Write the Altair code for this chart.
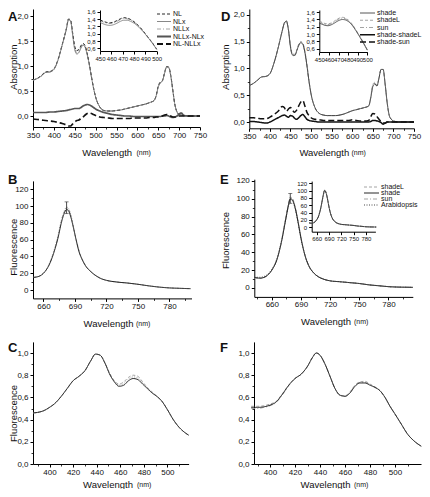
import altair as alt
import pandas as pd

FONT = "Liberation Sans"
W, H = 414, 481

# ---------------- Panel A / D : absorption spectra ----------------
ABS_WL = [350, 360, 370, 380, 390, 400, 410, 420, 430,
          435, 440, 445, 450, 455, 460, 465, 470, 475, 480, 485, 490, 495, 500,
          510, 520, 530, 540, 550, 560, 570, 580, 590, 600, 610, 620, 630, 640,
          645, 650, 655, 660, 665, 670, 675, 680, 685, 690, 695, 700, 705, 710,
          720, 730, 740, 750]

A_NL = [0.72, 0.75, 0.81, 0.88, 0.89, 0.94, 1.13, 1.43, 1.75,
        1.94, 1.92, 1.66, 1.39, 1.31, 1.33, 1.41, 1.45, 1.40, 1.24, 1.03, 0.79, 0.56, 0.38,
        0.18, 0.11, 0.10, 0.10, 0.11, 0.12, 0.14, 0.16, 0.18, 0.20, 0.22, 0.24, 0.27, 0.31,
        0.41, 0.60, 0.68, 0.71, 0.86, 0.99, 0.98, 0.81, 0.51, 0.22, 0.08, 0.03, 0.02, 0.01,
        0.0, 0.0, 0.0, 0.0]
A_NLX = [0.72, 0.75, 0.80, 0.87, 0.88, 0.93, 1.12, 1.42, 1.74,
         1.92, 1.90, 1.62, 1.33, 1.24, 1.27, 1.36, 1.42, 1.37, 1.22, 1.02, 0.78, 0.56, 0.38,
         0.18, 0.11, 0.10, 0.10, 0.11, 0.12, 0.14, 0.16, 0.18, 0.20, 0.22, 0.24, 0.27, 0.31,
         0.40, 0.58, 0.66, 0.70, 0.85, 0.98, 0.97, 0.80, 0.50, 0.22, 0.08, 0.03, 0.02, 0.01,
         0.0, 0.0, 0.0, 0.0]
A_NLLX = [0.71, 0.75, 0.80, 0.87, 0.88, 0.93, 1.12, 1.42, 1.74,
          1.93, 1.91, 1.63, 1.35, 1.27, 1.30, 1.38, 1.44, 1.39, 1.23, 1.02, 0.78, 0.56, 0.38,
          0.18, 0.11, 0.10, 0.10, 0.11, 0.12, 0.14, 0.16, 0.18, 0.20, 0.22, 0.24, 0.27, 0.31,
          0.40, 0.58, 0.67, 0.70, 0.85, 0.98, 0.97, 0.80, 0.50, 0.22, 0.08, 0.03, 0.02, 0.01,
          0.0, 0.0, 0.0, 0.0]
A_NLLX_NLX = [0.07, 0.07, 0.07, 0.07, 0.08, 0.08, 0.09, 0.10, 0.11,
              0.12, 0.13, 0.14, 0.15, 0.15, 0.15, 0.17, 0.20, 0.22, 0.23, 0.22, 0.20, 0.17, 0.14,
              0.10, 0.07, 0.05, 0.03, 0.02, 0.01, 0.00, 0.00, -0.01, -0.01, -0.01, -0.01, -0.01, -0.01,
              -0.01, -0.01, -0.01, 0.00, 0.00, 0.01, 0.00, -0.02, -0.03, -0.02, 0.00, 0.04, 0.06, 0.02,
              0.0, 0.0, 0.0, 0.0]
A_NL_NLLX = [-0.06, -0.07, -0.08, -0.09, -0.10, -0.11, -0.13, -0.15, -0.18,
             -0.20, -0.20, -0.16, -0.12, -0.09, -0.08, -0.05, -0.02, 0.02, 0.05, 0.06, 0.05, 0.03, 0.01,
             -0.02, -0.03, -0.04, -0.05, -0.05, -0.05, -0.05, -0.05, -0.04, -0.04, -0.04, -0.04, -0.03, -0.03,
             -0.02, -0.02, -0.01, 0.00, 0.02, 0.03, 0.02, 0.00, -0.02, -0.02, -0.01, 0.00, 0.00, 0.00,
             0.0, 0.0, 0.0, 0.0]

D_SHADE = [0.68, 0.72, 0.78, 0.84, 0.85, 0.90, 1.10, 1.38, 1.70,
           1.84, 1.88, 1.72, 1.40, 1.25, 1.24, 1.32, 1.43, 1.48, 1.45, 1.30, 1.05, 0.76, 0.52,
           0.26, 0.16, 0.13, 0.12, 0.12, 0.12, 0.13, 0.15, 0.18, 0.21, 0.23, 0.25, 0.27, 0.30,
           0.45, 0.66, 0.71, 0.67, 0.82, 0.98, 0.98, 0.70, 0.35, 0.12, 0.05, 0.02, 0.01, 0.00,
           0.0, 0.0, 0.0, 0.0]
D_SHADEL = [0.68, 0.72, 0.78, 0.84, 0.85, 0.90, 1.10, 1.38, 1.70,
            1.85, 1.89, 1.73, 1.42, 1.27, 1.26, 1.34, 1.45, 1.50, 1.47, 1.32, 1.07, 0.77, 0.53,
            0.26, 0.16, 0.13, 0.12, 0.12, 0.12, 0.13, 0.15, 0.18, 0.21, 0.23, 0.25, 0.27, 0.30,
            0.47, 0.70, 0.74, 0.68, 0.82, 0.98, 0.98, 0.70, 0.35, 0.12, 0.05, 0.02, 0.01, 0.00,
            0.0, 0.0, 0.0, 0.0]
D_SUN = [0.68, 0.72, 0.78, 0.84, 0.85, 0.90, 1.10, 1.38, 1.70,
         1.84, 1.87, 1.71, 1.39, 1.24, 1.23, 1.31, 1.42, 1.47, 1.44, 1.29, 1.04, 0.75, 0.52,
         0.26, 0.16, 0.13, 0.12, 0.12, 0.12, 0.13, 0.15, 0.18, 0.21, 0.23, 0.25, 0.27, 0.30,
         0.46, 0.68, 0.72, 0.67, 0.82, 0.98, 0.98, 0.70, 0.35, 0.12, 0.05, 0.02, 0.01, 0.00,
         0.0, 0.0, 0.0, 0.0]
D_SHADE_SHADEL = [0.01, 0.01, 0.00, -0.01, -0.02, 0.00, 0.04, 0.08, 0.12,
                  0.13, 0.11, 0.09, 0.12, 0.11, 0.07, 0.05, 0.08, 0.12, 0.14, 0.10, 0.05, 0.03, 0.02,
                  0.01, 0.00, 0.00, 0.00, 0.00, 0.00, 0.00, 0.00, 0.00, 0.00, 0.00, 0.00, 0.00, 0.00,
                  0.01, 0.03, 0.03, 0.02, 0.01, -0.01, -0.04, -0.02, 0.00, 0.00, 0.00, 0.00, 0.00, 0.00,
                  0.0, 0.0, 0.0, 0.0]
D_SHADE_SUN = [0.08, 0.08, 0.07, 0.06, 0.06, 0.09, 0.14, 0.20, 0.29,
               0.27, 0.20, 0.24, 0.27, 0.22, 0.18, 0.22, 0.30, 0.37, 0.40, 0.30, 0.18, 0.12, 0.08,
               0.05, 0.04, 0.03, 0.03, 0.03, 0.03, 0.03, 0.03, 0.03, 0.04, 0.03, 0.02, 0.02, 0.03,
               0.10, 0.16, 0.15, 0.10, 0.05, 0.01, -0.02, -0.02, 0.00, 0.00, 0.00, 0.00, 0.00, 0.00,
               0.0, 0.0, 0.0, 0.0]

# insets (450-500 nm)
IN_WL = [450, 453, 456, 459, 462, 465, 468, 471, 474, 477, 480, 484, 488, 492, 496, 500]
A_IN_NL = [1.38, 1.34, 1.31, 1.30, 1.32, 1.36, 1.41, 1.44, 1.43, 1.39, 1.33, 1.22, 1.08, 0.92, 0.76, 0.58]
A_IN_NLX = [1.31, 1.27, 1.24, 1.23, 1.25, 1.29, 1.34, 1.37, 1.37, 1.34, 1.29, 1.19, 1.06, 0.91, 0.75, 0.57]
A_IN_NLLX = [1.36, 1.32, 1.29, 1.28, 1.30, 1.34, 1.39, 1.42, 1.41, 1.38, 1.32, 1.21, 1.07, 0.92, 0.76, 0.58]
D_IN_SHADE = [1.30, 1.27, 1.24, 1.23, 1.25, 1.29, 1.34, 1.38, 1.40, 1.39, 1.35, 1.25, 1.10, 0.93, 0.75, 0.56]
D_IN_SHADEL = [1.36, 1.32, 1.29, 1.28, 1.30, 1.34, 1.40, 1.44, 1.46, 1.44, 1.39, 1.28, 1.12, 0.95, 0.77, 0.57]
D_IN_SUN = [1.34, 1.30, 1.27, 1.26, 1.28, 1.32, 1.38, 1.42, 1.44, 1.42, 1.37, 1.27, 1.11, 0.94, 0.76, 0.57]

# ---------------- Panel B / E : emission spectra ----------------
B_WL = [650, 655, 660, 665, 670, 674, 677, 680, 682, 684, 686, 688, 691, 694, 697, 700,
        705, 710, 715, 720, 730, 740, 750, 760, 770, 780, 790, 800]
B_NL = [15, 16, 20, 29, 45, 63, 80, 92, 96, 94, 87, 77, 60, 45, 36, 29,
        22, 17, 13.5, 11.5, 9.5, 8.3, 6.8, 5, 3.5, 2.5, 2, 1.6]
B_NLX = [15, 16, 20, 29, 46, 64, 82, 94, 98, 96, 89, 78, 61, 46, 36, 29,
         22, 17, 13.5, 11.5, 9.5, 8.3, 6.8, 5, 3.5, 2.5, 2, 1.6]
B_NLLX = [15, 16, 20, 30, 47, 66, 83, 95, 99, 97, 90, 79, 61, 46, 36, 29,
          22, 17, 13.5, 11.5, 9.5, 8.3, 6.8, 5, 3.5, 2.5, 2, 1.6]
B_ERR_WL = [682]
B_ERR_LO = [91]
B_ERR_HI = [105]

E_WL = [642, 648, 654, 660, 665, 670, 674, 677, 679, 681, 684, 687, 690, 694, 698, 703,
        708, 713, 720, 730, 740, 750, 760, 770, 780, 790, 800, 805]
E_SHADEL = [12, 11, 13, 20, 31, 53, 77, 94, 102, 101, 91, 75, 57, 37, 25, 17,
            12.5, 10, 8, 7, 6, 5, 3.5, 2.5, 1.5, 1, 0.8, 0.7]
E_SHADE = [12, 11, 13, 20, 31, 52, 75, 92, 100, 99, 90, 74, 56, 37, 25, 17,
           12.5, 10, 8, 7, 6, 5, 3.5, 2.5, 1.5, 1, 0.8, 0.7]
E_SUN = [11, 11, 13, 20, 31, 52, 76, 93, 101, 100, 90, 74, 56, 37, 25, 17,
         12.5, 10, 8, 7, 6, 5, 3.5, 2.5, 1.5, 1, 0.8, 0.7]
E_ARAB = [12, 12, 14, 21, 32, 53, 75, 91, 99, 98, 89, 73, 55, 37, 25, 17,
          12.5, 10, 8, 7, 6, 5, 3.5, 2.5, 1.5, 1, 0.8, 0.7]
E_ERR_WL = [679]
E_ERR_LO = [95]
E_ERR_HI = [106]

# ---------------- Panel C / F : excitation spectra ----------------
C_WL = [386, 390, 395, 400, 405, 410, 415, 420, 425, 430, 435, 439, 443, 447, 451, 455,
        459, 463, 467, 471, 475, 479, 483, 487, 491, 495, 500, 505, 510, 514, 518]
C_NL = [0.46, 0.465, 0.48, 0.51, 0.55, 0.61, 0.68, 0.75, 0.79, 0.84, 0.93, 0.99, 0.98, 0.91, 0.81, 0.74,
        0.70, 0.71, 0.75, 0.77, 0.76, 0.72, 0.68, 0.64, 0.61, 0.57, 0.49, 0.40, 0.33, 0.29, 0.26]
C_NLX = [0.46, 0.465, 0.48, 0.51, 0.55, 0.61, 0.68, 0.75, 0.79, 0.84, 0.93, 0.99, 0.98, 0.91, 0.82, 0.75,
         0.72, 0.74, 0.78, 0.80, 0.79, 0.74, 0.69, 0.65, 0.61, 0.57, 0.49, 0.40, 0.33, 0.29, 0.26]
C_NLLX = [0.46, 0.465, 0.48, 0.51, 0.55, 0.61, 0.68, 0.75, 0.79, 0.84, 0.93, 0.99, 0.98, 0.91, 0.81, 0.745,
          0.71, 0.725, 0.765, 0.785, 0.775, 0.73, 0.685, 0.645, 0.61, 0.57, 0.49, 0.40, 0.33, 0.29, 0.26]

F_WL = [385, 390, 395, 400, 405, 410, 415, 420, 425, 430, 434, 437, 440, 444, 448, 452,
        456, 460, 464, 468, 472, 476, 480, 484, 488, 492, 496, 500, 505, 510, 515, 521]
F_SHADE = [0.51, 0.51, 0.515, 0.53, 0.56, 0.63, 0.71, 0.77, 0.81, 0.88, 0.96, 1.00, 0.98, 0.90, 0.79, 0.68,
           0.62, 0.61, 0.64, 0.70, 0.73, 0.73, 0.71, 0.69, 0.66, 0.60, 0.52, 0.45, 0.36, 0.27, 0.21, 0.16]
F_SHADEL = [0.52, 0.52, 0.525, 0.54, 0.565, 0.635, 0.71, 0.77, 0.81, 0.88, 0.96, 1.00, 0.98, 0.90, 0.79, 0.68,
            0.62, 0.615, 0.65, 0.71, 0.74, 0.745, 0.72, 0.695, 0.66, 0.60, 0.52, 0.45, 0.36, 0.27, 0.21, 0.16]
F_SUN = [0.50, 0.50, 0.51, 0.525, 0.555, 0.625, 0.705, 0.77, 0.81, 0.88, 0.96, 1.00, 0.98, 0.90, 0.79, 0.68,
         0.62, 0.61, 0.645, 0.705, 0.735, 0.735, 0.715, 0.69, 0.66, 0.60, 0.52, 0.45, 0.36, 0.27, 0.21, 0.16]

# ---------------- styles ----------------
BLACK = "#111111"
GRAY = "#7a7a7a"
LGRAY = "#9a9a9a"
SOLID = [1, 0]
DASH = [3, 2]
DASHDOT = [4, 2, 1, 2]
DOT = [1, 1.5]
LDASH = [6, 3]

A_NAMES = ["NL", "NLx", "NLLx", "NLLx-NLx", "NL-NLLx"]
A_COLORS = [BLACK, GRAY, LGRAY, "#555555", BLACK]
A_DASHES = [DASH, SOLID, DASHDOT, SOLID, LDASH]
D_NAMES = ["shade", "shadeL", "sun", "shade-shadeL", "shade-sun"]
D_COLORS = ["#444444", LGRAY, LGRAY, BLACK, BLACK]
D_DASHES = [SOLID, DASH, DASHDOT, SOLID, LDASH]
E_NAMES = ["shadeL", "shade", "sun", "Arabidopsis"]
E_COLORS = [LGRAY, BLACK, LGRAY, "#333333"]
E_DASHES = [DASH, SOLID, DASHDOT, DOT]
BC_NAMES = ["NL", "NLx", "NLLx"]
BC_COLORS = [BLACK, LGRAY, LGRAY]
BC_DASHES = [SOLID, DASH, DOT]
F_NAMES = ["shade", "shadeL", "sun"]
F_COLORS = [BLACK, LGRAY, LGRAY]
F_DASHES = [SOLID, DASH, DASHDOT]

COMMA = "replace(format(datum.value, '.1f'), '.', ',')"
BASE_AX = dict(grid=False, domainColor="#000", domainWidth=1, tickColor="#000", tickSize=3,
               tickWidth=1, labelFont=FONT, labelColor="#111", labelOverlap=False,
               labelFlush=False, titleFont=FONT, titleFontSize=9.5, titleFontWeight="normal",
               titleColor="#111")


def long_df(wl, series):
    rows = []
    for name, vals in series:
        for w, v in zip(wl, vals):
            rows.append({"wl": w, "v": v, "series": name})
    return pd.DataFrame(rows)


def lin(dom, rng):
    return alt.Scale(domain=dom, range=rng, nice=False, zero=False)


def ax_x(axis_y, values, fs=8, title=None, tx=0, ty=0):
    kw = dict(BASE_AX, orient="bottom", offset=axis_y - H, values=values, labelFontSize=fs,
              labelAngle=0, labelPadding=1)
    if title:
        kw.update(title=title, titleX=tx, titleY=ty - axis_y, titleAlign="center",
                  titleBaseline="middle", titleAngle=0)
    else:
        kw["title"] = None
    return alt.Axis(**kw)


def ax_y(axis_x, values, fs=8, comma=False, title=None, tx=0, ty=0):
    kw = dict(BASE_AX, orient="left", offset=-axis_x, values=values, labelFontSize=fs,
              labelPadding=2)
    if comma:
        kw["labelExpr"] = COMMA
    if title:
        kw.update(title=title, titleX=tx - axis_x, titleY=ty, titleAlign="center",
                  titleBaseline="alphabetic", titleAngle=270)
    else:
        kw["title"] = None
    return alt.Axis(**kw)


def minor_x(axis_y, values):
    return alt.Axis(orient="bottom", offset=axis_y - H, values=values, labels=False, domain=False,
                    grid=False, tickSize=2, tickColor="#000", tickWidth=0.8, title=None)


def minor_y(axis_x, values):
    return alt.Axis(orient="left", offset=-axis_x, values=values, labels=False, domain=False,
                    grid=False, tickSize=2, tickColor="#000", tickWidth=0.8, title=None)


def lines(df, names, colors, dashes, width, xs, ys, xaxis=None, yaxis=None):
    return alt.Chart(df).mark_line(strokeWidth=width, interpolate="monotone").encode(
        x=alt.X("wl:Q", scale=xs, axis=xaxis),
        y=alt.Y("v:Q", scale=ys, axis=yaxis),
        color=alt.Color("series:N", scale=alt.Scale(domain=names, range=colors), legend=None),
        strokeDash=alt.StrokeDash("series:N", scale=alt.Scale(domain=names, range=dashes),
                                  legend=None),
    )


def minor_layer(df, xs, ys, xaxis, yaxis):
    # invisible copy of a panel's curves that only carries the minor tick axes
    return alt.Chart(df).mark_line(strokeOpacity=0).encode(
        x=alt.X("wl:Q", scale=xs, axis=xaxis),
        y=alt.Y("v:Q", scale=ys, axis=yaxis),
        detail="series:N",
    )


def legend(names, colors, dashes, groups, x0, x1, y0, y1, fs=7):
    df = pd.DataFrame({"series": names, "idx": list(range(len(names)))})
    ys = lin([0, len(names) - 1], [y0, y1])
    out = []
    for width, subset in groups:
        sub = df[df["series"].isin(subset)]
        out.append(alt.Chart(sub).mark_rule(strokeWidth=width).encode(
            x=alt.value(x0), x2=alt.value(x1),
            y=alt.Y("idx:Q", scale=ys, axis=None),
            color=alt.Color("series:N", scale=alt.Scale(domain=names, range=colors), legend=None),
            strokeDash=alt.StrokeDash("series:N", scale=alt.Scale(domain=names, range=dashes),
                                      legend=None)))
    out.append(alt.Chart(df).mark_text(align="left", baseline="middle", font=FONT, fontSize=fs,
                                       color="#111").encode(
        x=alt.value(x1 + 2), y=alt.Y("idx:Q", scale=ys, axis=None), text="series:N"))
    return out


def errbar(wl, lo, hi, xs, ys):
    df = pd.DataFrame({"wl": wl, "lo": lo, "hi": hi})
    rule = alt.Chart(df).mark_rule(color="#222", strokeWidth=0.8).encode(
        x=alt.X("wl:Q", scale=xs, axis=None), y=alt.Y("lo:Q", scale=ys, axis=None), y2="hi:Q")
    cdf = pd.DataFrame({"wl": wl + wl, "e": lo + hi})
    caps = alt.Chart(cdf).mark_tick(orient="horizontal", size=4, thickness=0.8, color="#222").encode(
        x=alt.X("wl:Q", scale=xs, axis=None), y=alt.Y("e:Q", scale=ys, axis=None))
    return [rule, caps]


def label(txt, x, y, fs, weight="normal", align="left", baseline="middle"):
    return alt.Chart(pd.DataFrame({"t": [txt]})).mark_text(
        align=align, baseline=baseline, font=FONT, fontSize=fs, fontWeight=weight,
        color="#111").encode(x=alt.value(x), y=alt.value(y), text="t:N")


layers = []

# ---------- A ----------
xs = lin([350, 750], [25, 192])
ys = lin([-0.22, 2.14], [119, 1])
dfA = long_df(ABS_WL, [("NLLx", A_NLLX), ("NL", A_NL), ("NLx", A_NLX)])
dfA2 = long_df(ABS_WL, [("NLLx-NLx", A_NLLX_NLX), ("NL-NLLx", A_NL_NLLX)])
layers.append(lines(dfA, A_NAMES, A_COLORS, A_DASHES, 1.0, xs, ys,
                    ax_x(119, list(range(350, 751, 50)), 8, "Wavelength", 98.7, 144),
                    ax_y(25, [0, 0.5, 1.0, 1.5, 2.0], 8, True, "Absorption", 8, 58.7)))
layers.append(minor_layer(dfA, xs, ys, minor_x(119, list(range(375, 751, 50))),
                          minor_y(25, [0.25, 0.75, 1.25, 1.75])))
layers.append(lines(dfA2, A_NAMES, A_COLORS, A_DASHES, 1.7, xs, ys))
xsi = lin([450, 500], [92, 148.7])
ysi = lin([0.53, 1.65], [43, 2])
dfAi = long_df(IN_WL, [("NLLx", A_IN_NLLX), ("NL", A_IN_NL), ("NLx", A_IN_NLX)])
layers.append(lines(dfAi, A_NAMES, A_COLORS, A_DASHES, 0.9, xsi, ysi,
                    ax_x(43, list(range(450, 501, 10)), 6),
                    ax_y(92, [0.6, 0.8, 1.0, 1.2, 1.4, 1.6], 6, True)))
layers += legend(A_NAMES, A_COLORS, A_DASHES,
                 [(0.9, ["NL", "NLx", "NLLx"]), (2.0, ["NLLx-NLx", "NL-NLLx"])],
                 149, 163, 6, 36)

# ---------- D ----------
xs = lin([350, 750], [241.3, 406])
ys = lin([-0.117, 2.106], [120.3, 1])
dfD = long_df(ABS_WL, [("sun", D_SUN), ("shadeL", D_SHADEL), ("shade", D_SHADE)])
dfD2 = long_df(ABS_WL, [("shade-shadeL", D_SHADE_SHADEL), ("shade-sun", D_SHADE_SUN)])
layers.append(lines(dfD, D_NAMES, D_COLORS, D_DASHES, 1.0, xs, ys,
                    ax_x(120.3, list(range(350, 751, 50)), 8, "Wavelength", 315.8, 144.7),
                    ax_y(241.3, [0, 0.5, 1.0, 1.5, 2.0], 8, True, "Absorption", 220, 58.7)))
layers.append(minor_layer(dfD, xs, ys, minor_x(120.3, list(range(375, 751, 50))),
                          minor_y(241.3, [0.25, 0.75, 1.25, 1.75])))
layers.append(lines(dfD2, D_NAMES, D_COLORS, D_DASHES, 1.5, xs, ys))
xsi = lin([450, 500], [311.3, 359.3])
ysi = lin([0.51, 1.66], [44, 2])
dfDi = long_df(IN_WL, [("sun", D_IN_SUN), ("shadeL", D_IN_SHADEL), ("shade", D_IN_SHADE)])
layers.append(lines(dfDi, D_NAMES, D_COLORS, D_DASHES, 0.9, xsi, ysi,
                    ax_x(44, list(range(450, 501, 10)), 6),
                    ax_y(311.3, [0.6, 0.8, 1.0, 1.2, 1.4, 1.6], 6, True)))
layers += legend(D_NAMES, D_COLORS, D_DASHES,
                 [(0.9, ["shade", "shadeL", "sun"]), (1.5, ["shade-shadeL", "shade-sun"])],
                 352, 367, 5, 34)

# ---------- B ----------
xs = lin([650, 801], [25, 183.5])
ys = lin([-10, 130], [290.4, 172.9])
dfB = long_df(B_WL, [("NLLx", B_NLLX), ("NLx", B_NLX), ("NL", B_NL)])
layers.append(lines(dfB, BC_NAMES, BC_COLORS, BC_DASHES, 0.9, xs, ys,
                    ax_x(290.4, [660, 690, 720, 750, 780], 8, "Wavelength", 100, 315.3),
                    ax_y(25, list(range(0, 121, 20)), 8, False, "Fluorescence", 8, 238.7)))
layers.append(minor_layer(dfB, xs, ys, minor_x(290.4, [675, 705, 735, 765, 795]),
                          minor_y(25, list(range(10, 121, 20)))))
layers += errbar(B_ERR_WL, B_ERR_LO, B_ERR_HI, xs, ys)

# ---------- E ----------
xs = lin([642, 805], [246.3, 404.8])
ys = lin([-10, 122], [288.9, 171.2])
dfE = long_df(E_WL, [("Arabidopsis", E_ARAB), ("sun", E_SUN), ("shadeL", E_SHADEL), ("shade", E_SHADE)])
layers.append(lines(dfE, E_NAMES, E_COLORS, E_DASHES, 0.9, xs, ys,
                    ax_x(288.9, [660, 690, 720, 750, 780], 8, "Wavelength", 317.5, 313.7),
                    ax_y(246.3, list(range(0, 121, 20)), 8, False, "Fluorescence", 220, 232)))
layers.append(minor_layer(dfE, xs, ys, minor_x(288.9, [645, 675, 705, 735, 765, 795]),
                          minor_y(246.3, list(range(10, 121, 20)))))
layers += errbar(E_ERR_WL, E_ERR_LO, E_ERR_HI, xs, ys)
xsi = lin([648, 803], [303.7, 367.4])
ysi = lin([-12, 126], [223.7, 173.1])
layers.append(lines(dfE, E_NAMES, E_COLORS, E_DASHES, 0.8, xsi, ysi,
                    ax_x(223.7, [660, 690, 720, 750, 780], 6),
                    ax_y(303.7, list(range(0, 121, 20)), 6)))
layers += legend(E_NAMES, E_COLORS, E_DASHES, [(0.9, E_NAMES)], 356, 371, 179, 197)

# ---------- C ----------
xs = lin([386, 518], [25, 180.6])
ys = lin([0, 1.1], [456, 333.9])
dfC = long_df(C_WL, [("NLx", C_NLX), ("NLLx", C_NLLX), ("NL", C_NL)])
layers.append(lines(dfC, BC_NAMES, BC_COLORS, BC_DASHES, 0.9, xs, ys,
                    ax_x(456, list(range(400, 501, 20)), 8, "Wavelength", 99.5, 476),
                    ax_y(25, [0, 0.2, 0.4, 0.6, 0.8, 1.0], 8, True, "Fluorescence", 8, 405)))
layers.append(minor_layer(dfC, xs, ys, minor_x(456, list(range(390, 511, 20))),
                          minor_y(25, [0.1, 0.3, 0.5, 0.7, 0.9])))

# ---------- F ----------
xs = lin([387.2, 520.8], [246, 413])
ys = lin([0, 1.1], [456, 333.9])
dfF = long_df(F_WL, [("shadeL", F_SHADEL), ("sun", F_SUN), ("shade", F_SHADE)])
layers.append(lines(dfF, F_NAMES, F_COLORS, F_DASHES, 0.9, xs, ys,
                    ax_x(456, list(range(400, 501, 20)), 8, "Wavelength", 317, 476),
                    ax_y(246, [0, 0.2, 0.4, 0.6, 0.8, 1.0], 8, True)))
layers.append(minor_layer(dfF, xs, ys, minor_x(456, list(range(390, 521, 20))),
                          minor_y(246, [0.1, 0.3, 0.5, 0.7, 0.9])))

# ---------- panel letters and unit labels ----------
for txt, x, y in [("A", 0, 12.5), ("D", 213, 12.5), ("B", 0, 176), ("E", 212, 176),
                  ("C", 0, 344), ("F", 212, 344)]:
    layers.append(label(txt, x, y, 13, "bold", "left", "alphabetic"))
for x, y in [(128.5, 144.5), (343.5, 145.2), (128, 315.8), (346, 314.2), (129, 476.5), (346, 476.5)]:
    layers.append(label("(nm)", x, y, 7))

chart = alt.layer(*layers).resolve_scale(
    x="independent", y="independent", color="independent", strokeDash="independent"
).properties(
    width=W, height=H, autosize=alt.AutoSizeParams(type="none"), padding=0
).configure_view(stroke=None)

chart.save("out.html", embed_options={"renderer": "svg", "actions": False})
